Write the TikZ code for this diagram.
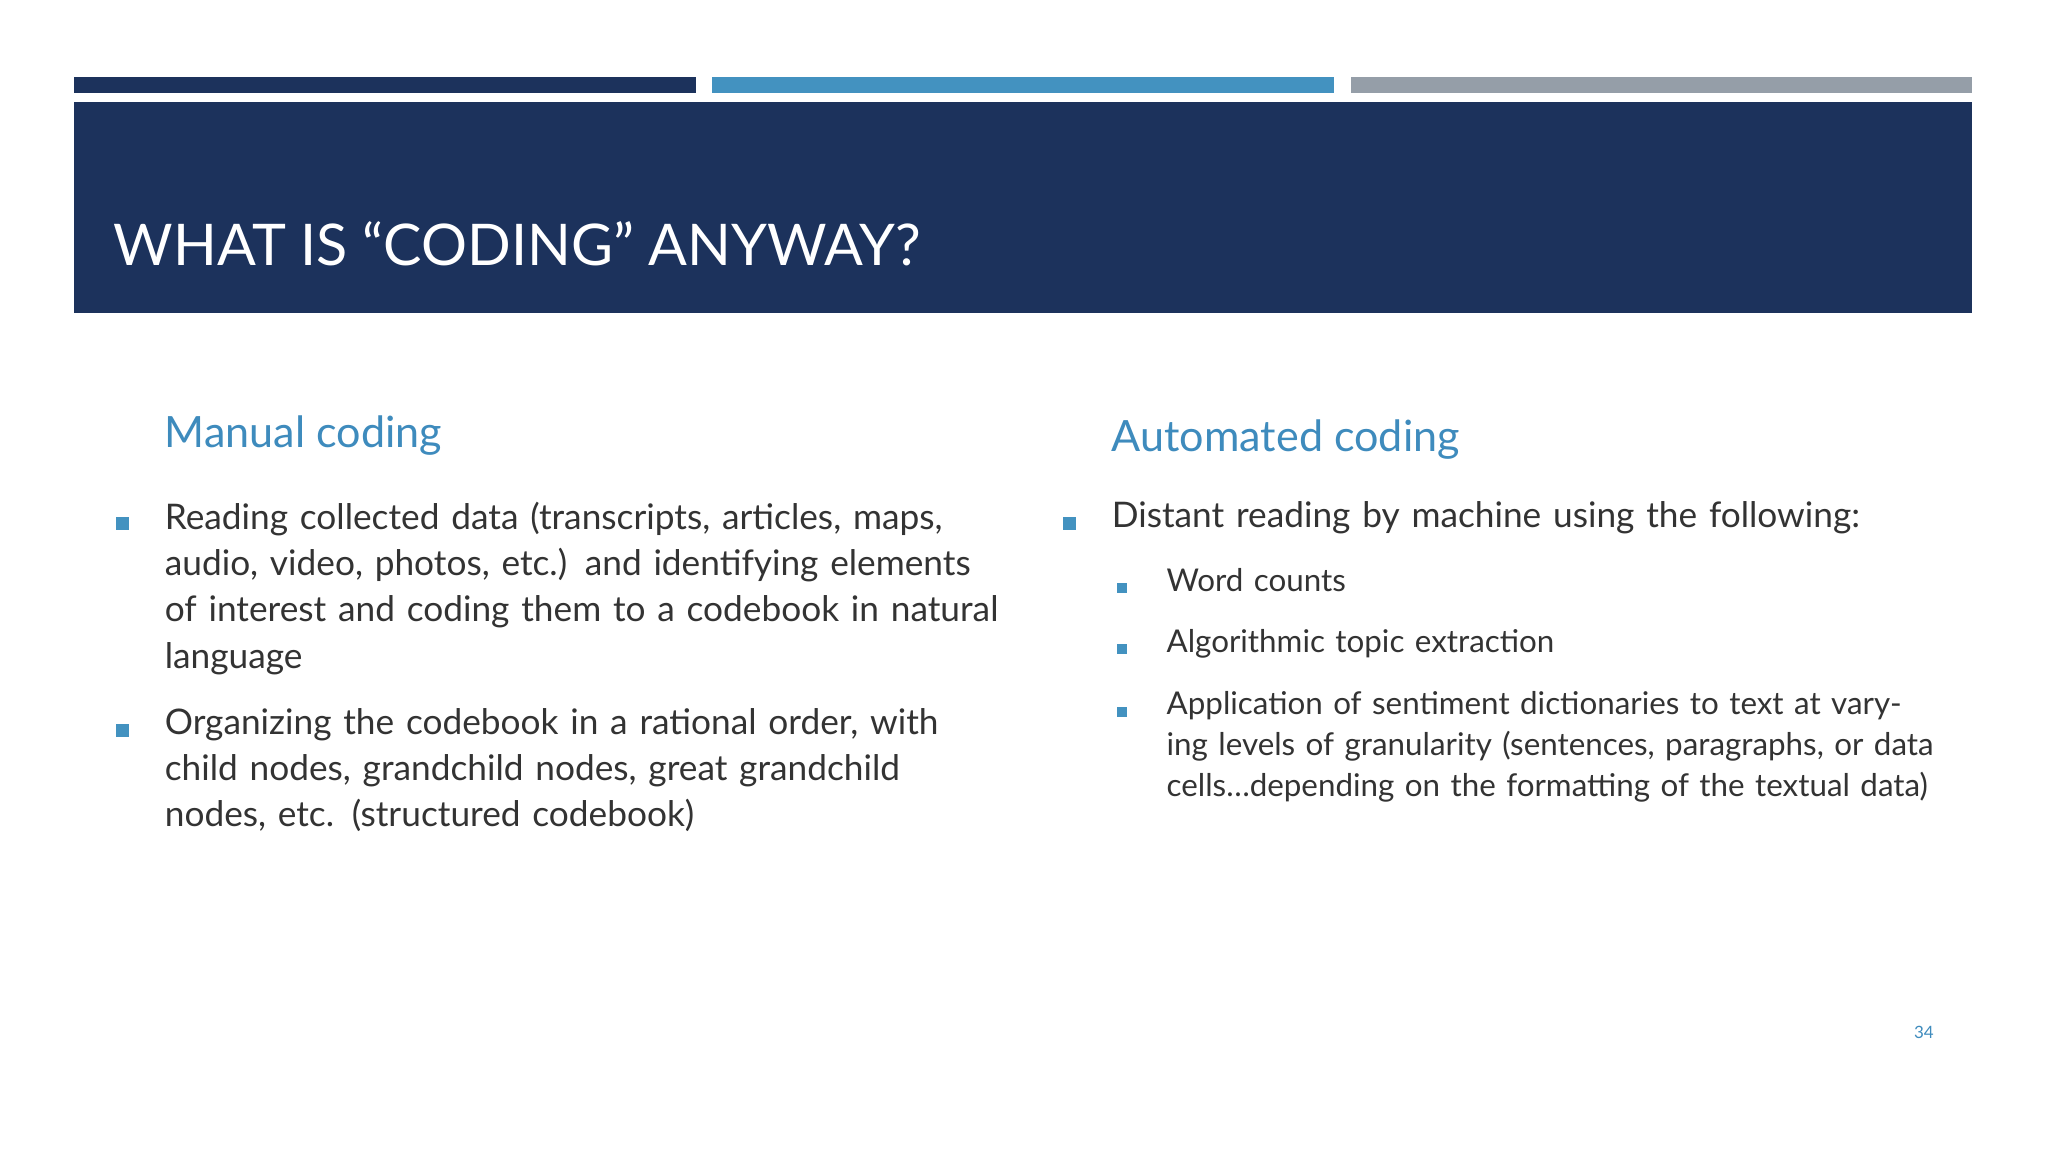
\documentclass[tikz,border=0pt]{standalone}
\usepackage{fontspec}
\setmainfont{Lato}
\definecolor{navy}{HTML}{1C325C}
\definecolor{sky}{HTML}{4392C0}
\definecolor{greybar}{HTML}{959EA8}
\definecolor{body}{HTML}{333333}
\definecolor{head}{HTML}{3E8BBD}
\begin{document}
\begin{tikzpicture}[x=1pt,y=-1pt,
  bodytext/.style={anchor=north west,inner sep=0pt,text width=#1,align=left,text=body,font=\fontsize{27}{35.5}\selectfont},
  subtext/.style={anchor=north west,inner sep=0pt,text width=#1,align=left,text=body,font=\fontsize{24}{31.5}\selectfont},
  headtext/.style={anchor=base west,inner sep=0pt,text=head,font=\fontsize{33}{40}\selectfont},
  bul/.style={fill=sky,minimum size=10pt,inner sep=0pt},
  sbul/.style={fill=sky,minimum size=8pt,inner sep=0pt}]
\useasboundingbox[fill=white] (0,0) rectangle (1568,882);
\fill[navy] (57,59) rectangle (533,71);
\fill[sky] (545,59) rectangle (1021,71);
\fill[greybar] (1034,59) rectangle (1510,71);
\fill[navy] (57,78) rectangle (1510,240);
\node[anchor=base west,inner sep=0pt,text=white,font=\fontsize{44}{50}\selectfont] (title) at (87,203) {WHAT IS “CODING” ANYWAY?};
\node[headtext] (h1) at (126,343) {Manual coding};
\node[headtext] (h2) at (851,346) {Automated coding};
\node[bul] (b1) at (94,401) {};
\node[bodytext=640pt] (t1) at (126,384) {Reading collected data (transcripts, articles, maps, audio, video, photos, etc.) and identifying elements of interest and coding them to a codebook in natural language};
\node[bul] (b2) at (94,559) {};
\node[bodytext=640pt] (t2) at (126,542) {Organizing the codebook in a rational order, with child nodes, grandchild nodes, great grandchild nodes, etc. (structured codebook)};
\node[bul] (b3) at (819,401) {};
\node[bodytext=660pt] (t3) at (851,384) {Distant reading by machine using the following:};
\node[sbul] (s1) at (859,450) {};
\node[subtext=600pt] (u1) at (893,435) {Word counts};
\node[sbul] (s2) at (859,497) {};
\node[subtext=600pt] (u2) at (893,482) {Algorithmic topic extraction};
\node[sbul] (s3) at (859,545) {};
\node[subtext=600pt] (u3) at (893,529) {Application of sentiment dictionaries to text at varying levels of granularity (sentences, paragraphs, or data cells\ldots depending on the formatting of the textual data)};
\node[anchor=base,inner sep=0pt,text=head,font=\fontsize{13}{15}\selectfont] (pg) at (1473,795) {34};
\end{tikzpicture}
\end{document}
